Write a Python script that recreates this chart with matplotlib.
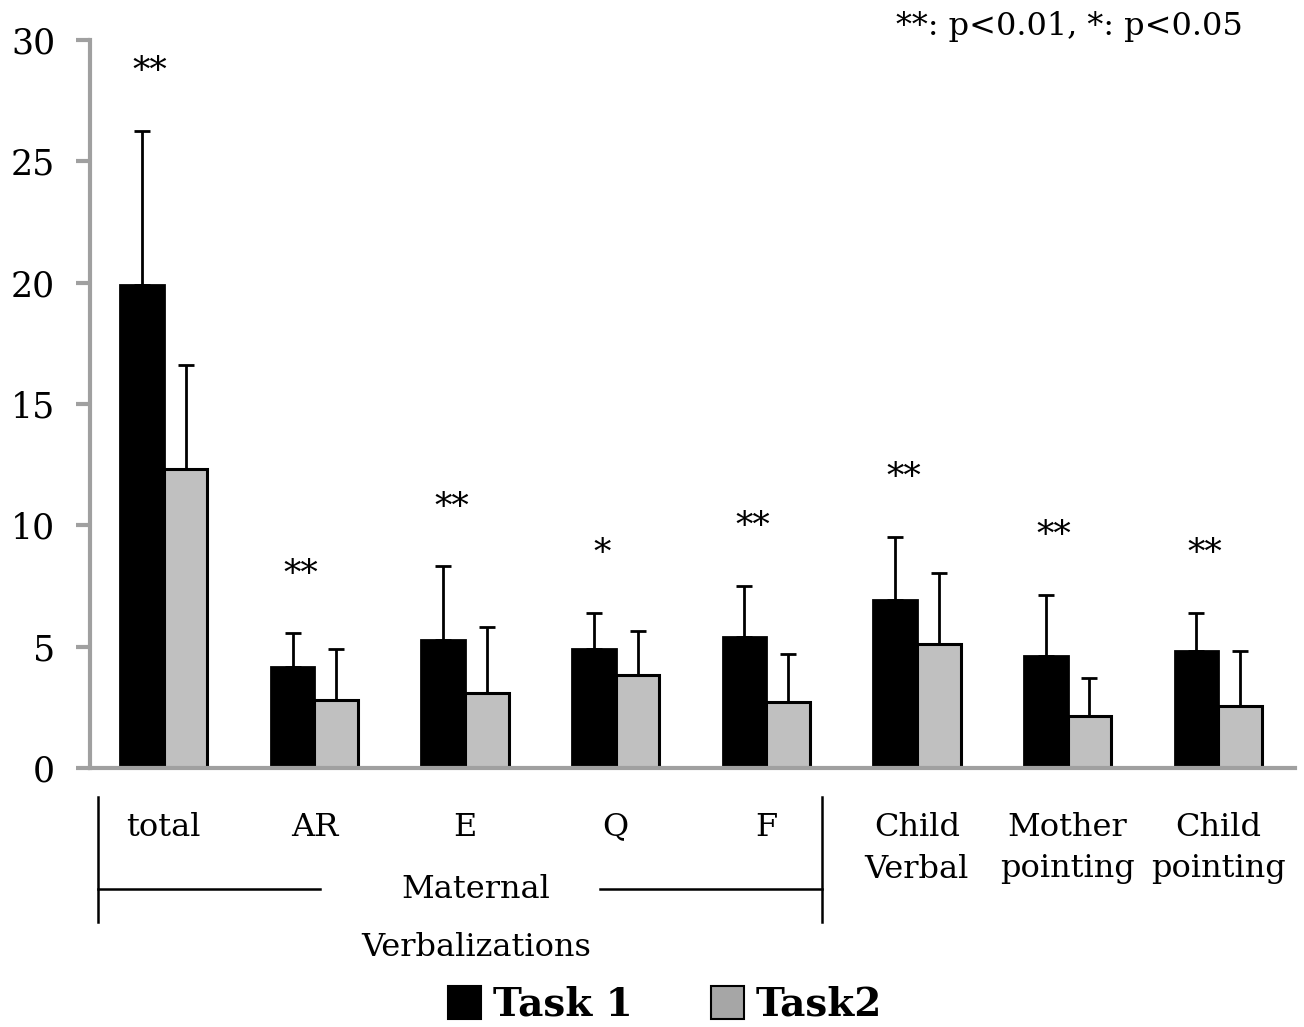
import matplotlib
matplotlib.use("Agg")
import matplotlib.pyplot as plt
import matplotlib.transforms as mtransforms
from matplotlib.patches import Patch
from matplotlib.lines import Line2D
import numpy as np

categories = ["total", "AR", "E", "Q", "F", "Child\nVerbal", "Mother\npointing", "Child\npointing"]
task1_mean = [19.9, 4.16, 5.27, 4.9, 5.4, 6.92, 4.61, 4.82]
task1_sd = [6.35, 1.4, 3.05, 1.49, 2.1, 2.6, 2.52, 1.57]
task2_mean = [12.32, 2.8, 3.09, 3.83, 2.72, 5.11, 2.14, 2.55]
task2_sd = [4.28, 2.1, 2.72, 1.81, 1.98, 2.92, 1.57, 2.27]
significance = ["**", "**", "**", "*", "**", "**", "**", "**"]
legend_labels = ["Task 1", "Task2"]
note = "**: p<0.01, *: p<0.05"
group_label = "Maternal\nVerbalizations"

plt.rcParams['font.family'] = ['DejaVu Serif']
W, H = 1304, 1027
fig = plt.figure(figsize=(W / 100, H / 100), dpi=100)
ax = fig.add_axes([90 / W, 1 - 768 / H, (1295 - 90) / W, (768 - 40) / H])

n = len(categories)
x = np.arange(n) + 0.49
bw = 0.29
gray_spine = "#a0a0a0"

ax.bar(x - bw / 2, task1_mean, bw, color="black", edgecolor="black", linewidth=2.0, zorder=2)
ax.bar(x + bw / 2, task2_mean, bw, color="#c0c0c0", edgecolor="black", linewidth=2.2, zorder=2)
ax.errorbar(x - bw / 2, task1_mean, yerr=[np.zeros(n), task1_sd], fmt="none",
            ecolor="black", elinewidth=2.0, capsize=6, capthick=2.0, zorder=1)
ax.errorbar(x + bw / 2, task2_mean, yerr=[np.zeros(n), task2_sd], fmt="none",
            ecolor="black", elinewidth=2.0, capsize=6, capthick=2.0, zorder=1)

tops = np.maximum(np.array(task1_mean) + np.array(task1_sd), np.array(task2_mean) + np.array(task2_sd))
for xi, top, s in zip(x, tops, significance):
    ax.text(xi - 0.09, top + 2.0, s, ha="center", va="baseline", fontsize=25)

ax.set_xlim(0, 8)
ax.set_ylim(0, 30)
ax.set_yticks(range(0, 31, 5))
ax.set_xticks([])
for sp in ["top", "right"]:
    ax.spines[sp].set_visible(False)
ax.spines["left"].set_color(gray_spine)
ax.spines["left"].set_linewidth(3)
ax.spines["bottom"].set_color(gray_spine)
ax.spines["bottom"].set_linewidth(3)
ax.tick_params(axis="y", direction="out", length=10, width=3, color=gray_spine,
               labelsize=25, pad=15)

# category labels below axis
tr = mtransforms.blended_transform_factory(ax.transData, fig.transFigure)
for xi, lab in zip(np.arange(n) + 0.49, categories):
    for k, line in enumerate(lab.split("\n")):
        ax.text(xi, 1 - (827 + 42 * k) / H, line, transform=tr, ha="center",
                va="center", fontsize=23, clip_on=False)

# bracket for maternal verbalizations
def px2x(px):
    return (px - 90) / 150.6

def py2f(py):
    return 1 - py / H

lines = [
    ([px2x(98), px2x(98)], [py2f(797), py2f(922)]),
    ([px2x(822), px2x(822)], [py2f(797), py2f(922)]),
    ([px2x(98), px2x(320)], [py2f(889), py2f(889)]),
    ([px2x(600), px2x(822)], [py2f(889), py2f(889)]),
]
for xs, ys in lines:
    ax.add_line(Line2D(xs, ys, transform=tr, color="black", linewidth=1.8, clip_on=False))

g1, g2 = group_label.split("\n")
ax.text(px2x(476), py2f(889), g1, transform=tr, ha="center", va="center", fontsize=23, clip_on=False)
ax.text(px2x(476), py2f(947), g2, transform=tr, ha="center", va="center", fontsize=23, clip_on=False)

fig.text(1243 / W, 1 - 27 / H, note, ha="right", va="center", fontsize=23)

handles = [Patch(facecolor="black", edgecolor="black", linewidth=1.5),
           Patch(facecolor="#a6a6a6", edgecolor="black", linewidth=1.5)]
fig.legend(handles, legend_labels, loc="center", bbox_to_anchor=(665 / W, 1 - 1005 / H),
           ncol=2, frameon=False, prop={"weight": "bold", "size": 28},
           handlelength=0.85, handleheight=0.9, handletextpad=0.3, columnspacing=2.0)

fig.savefig("out.png", dpi=100)
